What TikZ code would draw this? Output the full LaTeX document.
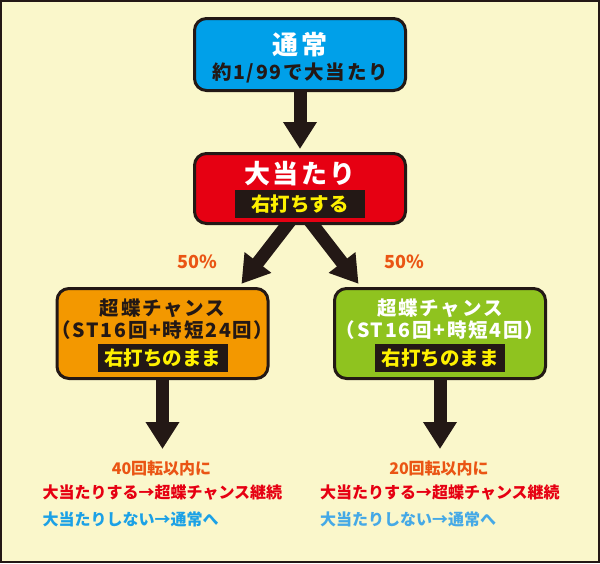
\documentclass[tikz,border=0pt]{standalone}
\usepackage{fontspec}
\setmainfont{Noto Sans CJK JP}
\newfontfamily\jpwide{Noto Sans CJK JP}[LetterSpace=9]
\usetikzlibrary{arrows.meta,backgrounds}
\definecolor{ink}{HTML}{231815}
\definecolor{cream}{HTML}{FAF7CB}
\definecolor{sky}{HTML}{00A0E9}
\definecolor{hitred}{HTML}{E60012}
\definecolor{amber}{HTML}{F39800}
\definecolor{leaf}{HTML}{8FC31F}
\definecolor{lemon}{HTML}{FFF100}
\definecolor{rust}{HTML}{EA5514}
\definecolor{skyA}{HTML}{1BA1E6}
\definecolor{skyB}{HTML}{45A9E6}
\newcommand{\fsz}[1]{\fontsize{#1}{#1}\selectfont\bfseries}
\newcommand{\fwz}[1]{\jpwide\fontsize{#1}{#1}\selectfont\bfseries}

\begin{document}
\begin{tikzpicture}[x=1pt,y=-1pt,every node/.style={inner sep=0pt},
	box/.style={draw=ink,line width=3pt,rounded corners=12pt,minimum width=211pt},
	band/.style={fill=ink,text=lemon,minimum width=130pt,minimum height=28pt,font=\fsz{19.5}},
	bigarrow/.style={draw=ink,line width=13pt,-{Triangle[width=32pt,length=27pt]}}]
	\useasboundingbox (0,0) rectangle (600,563);
	\begin{scope}[on background layer]
	\fill[ink] (0,0) rectangle (600,563);
	\fill[cream] (2,2) rectangle (598,561);
	\end{scope}
	%normal play
	\node[box,fill=sky,minimum height=72pt] (normal) at (300,54.5) {};
	\node[text=white,font=\fwz{26}] (normaltitle) at (300,45) {通常};
	\node[text=ink,font=\fwz{19.5}] (normalrate) at (300,73) {約1/99で大当たり};
	%jackpot
	\node[box,fill=hitred,minimum height=70pt] (hit) at (300,188.5) {};
	\node[text=white,font=\fwz{26}] (hittitle) at (300,174) {大当たり};
	\node[band] (hitband) at (300,204) {右打ちする};
	\node[text=rust,font=\fsz{18}] (oddsA) at (197,262) {50\%};
	\node[text=rust,font=\fsz{18}] (oddsB) at (404,262) {50\%};
	%chance modes
	\foreach \x/\fillc/\txtc/\turns/\spins/\blue [count=\i] in {162.5/amber/ink/24/40/skyA, 440/leaf/white/4/20/skyB} {
		\node[box,fill=\fillc,minimum height=90pt] (chance\i) at (\x,333.5) {};
		\node[text=\txtc,font=\fwz{19.5}] (chancename\i) at (\x,308) {超蝶チャンス};
		\node[text=\txtc,font=\fwz{19.5}] (chancerule\i) at (\x,330) {（ST16回+時短\turns 回）};
		\node[band] (chanceband\i) at (\x,358) {右打ちのまま};
		\coordinate (tip\i) at (\x,449);
		\node[text=rust,font=\fsz{16}] (spins\i) at (\x-1,468) {\spins 回転以内に};
		\node[text=hitred,font=\fsz{16},anchor=west] (win\i) at (\x-120,493) {大当たりする→超蝶チャンス継続};
		\node[text=\blue,font=\fsz{16},anchor=west] (lose\i) at (\x-120,519) {大当たりしない→通常へ};
		\begin{scope}[on background layer]
		\draw[bigarrow] (chance\i.south) -- (tip\i);
		\end{scope}
	}
	\begin{scope}[on background layer]
	\draw[bigarrow,shorten >=3pt] (normal.south) -- (hit.north);
	\draw[bigarrow,shorten <=-8pt,shorten >=4pt] ([xshift=-13pt]hit.south) -- ([xshift=-30.5pt]chance1.north east);
	\draw[bigarrow,shorten <=-8pt,shorten >=4pt] ([xshift=13pt]hit.south) -- ([xshift=28pt]chance2.north west);
	\end{scope}
\end{tikzpicture}
\end{document}
